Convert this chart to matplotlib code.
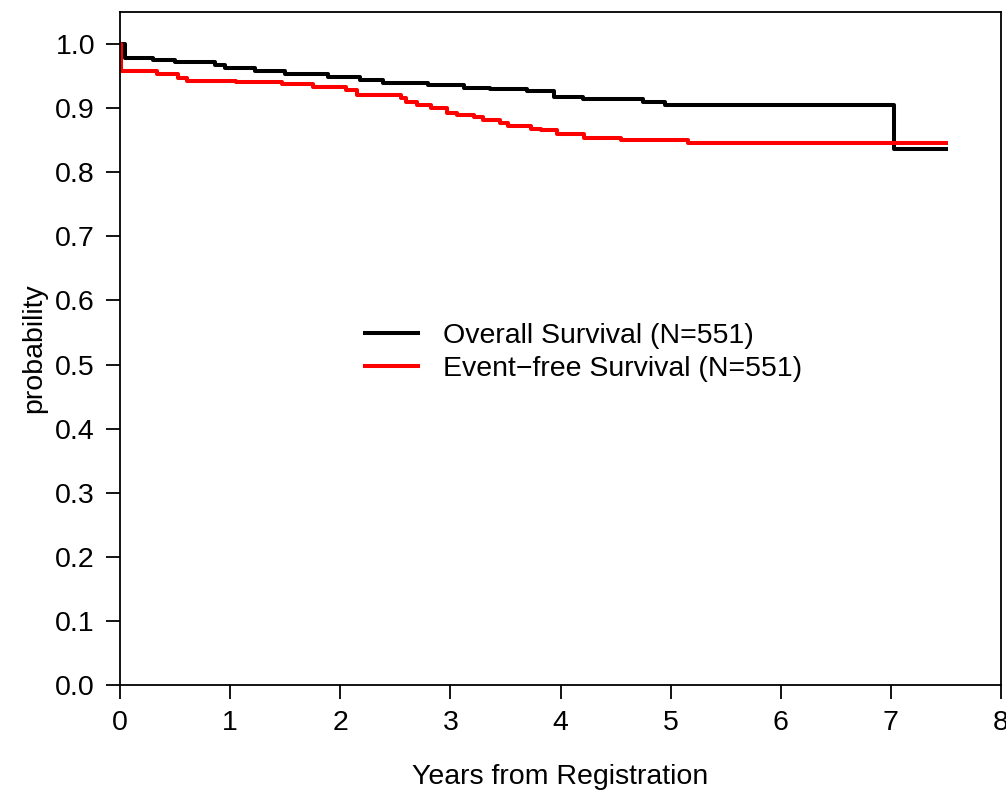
import matplotlib
matplotlib.use("Agg")
import matplotlib.pyplot as plt

plt.rcParams['font.family'] = ['Liberation Sans', 'DejaVu Sans']

# Overall survival (step function, post)
os_time = [0.0, 0.045, 0.30, 0.50, 0.86, 0.95, 1.23, 1.50, 1.89, 2.18, 2.39,
           2.80, 3.12, 3.36, 3.70, 3.94, 4.20, 4.75, 4.95, 7.03, 7.50]
os_surv = [1.000, 0.978, 0.975, 0.972, 0.968, 0.962, 0.958, 0.954, 0.948, 0.944, 0.940,
           0.936, 0.932, 0.930, 0.926, 0.918, 0.914, 0.910, 0.905, 0.836, 0.836]

# Event-free survival
efs_time = [0.0, 0.005, 0.34, 0.53, 0.61, 1.05, 1.47, 1.75, 2.05, 2.15, 2.55,
            2.60, 2.70, 2.82, 2.97, 3.06, 3.21, 3.30, 3.45, 3.52, 3.73, 3.82,
            3.97, 4.21, 4.55, 5.16, 7.50]
efs_surv = [1.000, 0.958, 0.954, 0.947, 0.943, 0.941, 0.937, 0.933, 0.929, 0.920, 0.916,
            0.910, 0.905, 0.900, 0.893, 0.889, 0.886, 0.881, 0.877, 0.872, 0.868, 0.866,
            0.860, 0.854, 0.850, 0.845, 0.845]

labels = ["Overall Survival (N=551)", "Event\u2212free Survival (N=551)"]
x_ticks = list(range(0, 9))
y_ticks = [i / 10 for i in range(0, 11)]

FS = 20.5

fig = plt.figure(figsize=(10.06, 7.90), dpi=100)
ax = fig.add_axes([120 / 1006, 1 - 685 / 790, 881 / 1006, 673 / 790])

ax.step(os_time, os_surv, where='post', color='black', lw=2.9, label=labels[0])
ax.step(efs_time, efs_surv, where='post', color='#ff0000', lw=2.9, label=labels[1])

ax.set_xlim(0, 8)
ax.set_ylim(0, 1.05)
ax.set_xticks(x_ticks)
ax.set_xticklabels([str(t) for t in x_ticks])
ax.set_yticks(y_ticks)
ax.set_yticklabels([f"{t:.1f}" for t in y_ticks])
ax.tick_params(axis='both', direction='out', length=10, width=1.3, labelsize=FS, pad=8)
for s in ax.spines.values():
    s.set_linewidth(1.3)

ax.set_xlabel("Years from Registration", fontsize=FS, labelpad=20)
ax.set_ylabel("probability", fontsize=FS, labelpad=6)

leg = ax.legend(loc='center left', bbox_to_anchor=(0.278, 0.494), frameon=False,
                fontsize=FS, handlelength=1.86, handletextpad=0.88, labelspacing=0.25,
                borderaxespad=0, borderpad=0)

fig.savefig("out.png", dpi=100)
